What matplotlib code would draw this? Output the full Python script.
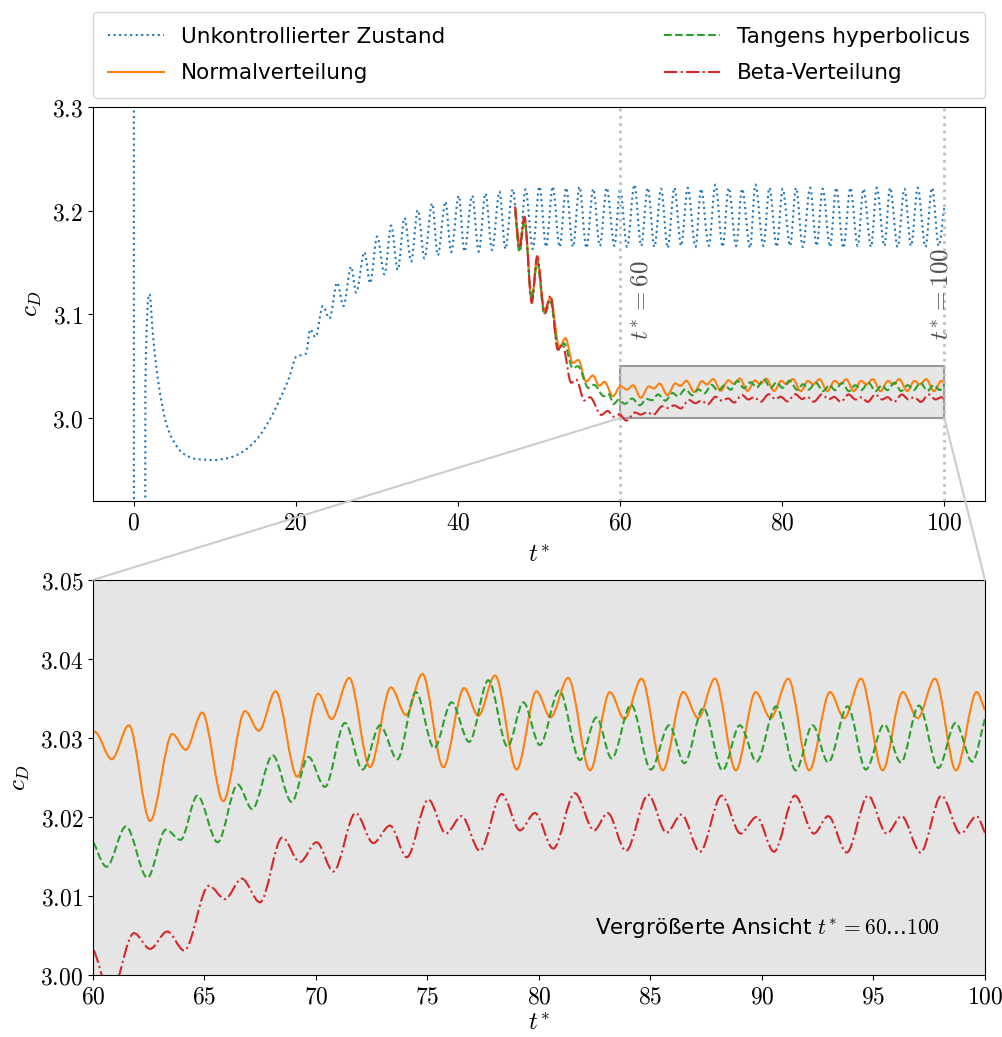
import matplotlib
matplotlib.use("Agg")
import matplotlib.pyplot as plt
from matplotlib.path import Path
from matplotlib.patches import PathPatch, Rectangle, ConnectionPatch
from matplotlib.lines import Line2D
from matplotlib import ticker

plt.rcParams['mathtext.fontset'] = 'cm'
plt.rcParams['font.family'] = ['DejaVu Sans']

blue_t = [0.04, 0.05, 1.42, 1.46, 1.97, 2.38, 2.80, 3.41, 4.03, 4.85, 6.08, 7.73, 9.78, 11.84, 13.48, 15.13, 16.77, 18.00, 19.24, 20.06, 21.30,
          21.78, 22.44, 23.35, 24.17, 25.11, 25.89, 26.84, 27.46, 28.48, 29.18, 30.05, 30.95, 31.77, 32.59, 33.42, 34.24, 35.06, 35.88, 36.83, 37.52,
          38.47, 39.17, 40.11, 40.81, 41.76, 42.58, 43.40, 44.23, 45.13, 45.87, 46.77, 47.60, 48.34, 49.24, 50.06, 50.89, 51.70, 52.55, 53.35, 54.20,
          55.00, 55.85, 56.70, 57.50, 58.36, 59.31, 60.01, 60.87, 61.77, 62.60, 63.42, 64.24, 65.06, 65.88, 66.70, 67.53, 68.35, 69.30, 69.99, 70.94,
          71.76, 72.66, 73.40, 74.32, 75.05, 76.04, 76.69, 77.68, 78.42, 79.32, 80.06, 80.97, 81.71, 82.53, 83.44, 84.25, 84.99, 85.90, 86.65, 87.55,
          88.41, 89.31, 90.01, 90.96, 91.66, 92.60, 93.30, 94.24, 95.07, 95.89, 96.71, 97.66, 98.48, 99.30, 100.0]
blue_c = [3.6, 2.7, 2.7, 3.03, 3.1196, 3.0817, 3.0495, 3.0174, 2.9949, 2.9788, 2.966, 2.9605, 2.9595, 2.9617, 2.9675, 2.9788, 2.998, 3.0174, 3.0398, 3.059, 3.0624,
          3.0855, 3.078, 3.108, 3.096, 3.1305, 3.108, 3.146, 3.121, 3.160, 3.130, 3.175, 3.1386, 3.1855, 3.1428, 3.193, 3.151, 3.2006, 3.154, 3.207, 3.157,
          3.2087, 3.160, 3.2144, 3.1605, 3.2144, 3.1605, 3.2167, 3.162, 3.2183, 3.163, 3.2206, 3.163, 3.2206, 3.163, 3.2232, 3.165, 3.2232, 3.165, 3.222, 3.165,
          3.223, 3.164, 3.221, 3.166, 3.222, 3.166, 3.221, 3.165, 3.225, 3.166, 3.222, 3.165, 3.221, 3.164, 3.222, 3.166, 3.222, 3.165, 3.221, 3.166,
          3.225, 3.165, 3.222, 3.166, 3.221, 3.164, 3.225, 3.166, 3.222, 3.165, 3.221, 3.166, 3.222, 3.165, 3.222, 3.166, 3.221, 3.165, 3.222, 3.164,
          3.222, 3.166, 3.221, 3.165, 3.222, 3.166, 3.222, 3.165, 3.221, 3.166, 3.222, 3.165, 3.222, 3.166, 3.205]

# Normalverteilung
orange_t = [47.06, 47.60, 48.21, 49.11, 49.78, 50.68, 51.42, 52.50, 53.27, 54.17, 54.85, 55.82, 56.64, 57.46, 58.08, 59.10,
            60.07, 60.84, 61.61, 62.56, 63.56, 64.16, 64.90, 65.84, 66.82, 67.44, 68.19, 69.16,
            70.10, 70.70, 71.49, 72.42, 73.36, 74.04, 74.77, 75.71, 76.64, 77.28, 78.03, 79.00,
            79.89, 80.52, 81.31, 82.29, 83.18, 83.83, 84.60, 85.55, 86.47, 87.14, 87.89, 88.83,
            89.72, 90.39, 91.18, 92.12, 93.05, 93.69, 94.44, 95.41, 96.31, 96.98, 97.76, 98.70, 99.63, 100.0]
orange_c = [3.202, 3.166, 3.192, 3.114, 3.154, 3.104, 3.116, 3.068, 3.077, 3.053, 3.056, 3.035, 3.041, 3.031, 3.035, 3.021,
            3.0308, 3.0273, 3.0316, 3.0195, 3.0305, 3.0285, 3.0332, 3.0220, 3.0334, 3.0309, 3.0359, 3.0251,
            3.0356, 3.0324, 3.0376, 3.0263, 3.0364, 3.0329, 3.0381, 3.0263, 3.0363, 3.0328, 3.0379, 3.0260,
            3.0359, 3.0326, 3.0376, 3.0259, 3.0358, 3.0324, 3.0375, 3.0259, 3.0358, 3.0325, 3.0375, 3.0259,
            3.0358, 3.0325, 3.0375, 3.0259, 3.0358, 3.0325, 3.0375, 3.0259, 3.0358, 3.0325, 3.0375, 3.0259, 3.0358, 3.0335]

# Tangens hyperbolicus
green_t = [47.06, 47.60, 48.21, 49.11, 49.78, 50.68, 51.42, 52.40, 53.10, 54.17, 54.80, 56.10, 56.80, 58.00, 58.60, 59.20, 59.80,
           60.61, 61.48, 62.44, 63.27, 63.93, 64.68, 65.59, 66.49, 67.14, 68.06, 68.91, 69.66,
           70.40, 71.30, 72.09, 72.87, 73.65, 74.48, 75.30, 76.08, 76.87, 77.73, 78.59, 79.30,
           80.04, 80.91, 81.84, 82.58, 83.26, 84.13, 85.02, 85.84, 86.52, 87.37, 88.23, 89.01,
           89.76, 90.63, 91.52, 92.27, 92.97, 93.84, 94.66, 95.48, 96.23, 97.04, 97.91, 98.68, 99.43, 100.0]
green_c = [3.200, 3.160, 3.190, 3.115, 3.150, 3.100, 3.112, 3.066, 3.072, 3.048, 3.050, 3.029, 3.032, 3.021, 3.023, 3.0135, 3.0175,
           3.0137, 3.0188, 3.0123, 3.0184, 3.0171, 3.0227, 3.0168, 3.0241, 3.0210, 3.0278, 3.0219, 3.0276,
           3.0238, 3.0319, 3.0260, 3.0316, 3.0273, 3.0358, 3.0287, 3.0345, 3.0295, 3.0373, 3.0289, 3.0345,
           3.0291, 3.0360, 3.0272, 3.0326, 3.0274, 3.0342, 3.0260, 3.0316, 3.0268, 3.0338, 3.0259, 3.0316,
           3.0270, 3.0340, 3.0259, 3.0316, 3.0269, 3.0340, 3.0260, 3.0317, 3.0269, 3.0341, 3.0262, 3.0319, 3.0270, 3.0324]

# Beta-Verteilung
red_t = [47.06, 47.60, 48.21, 49.11, 49.78, 50.68, 51.42, 52.32, 52.90, 53.97, 54.60, 55.60, 56.30, 57.67, 58.48, 59.20, 59.90,
         60.78, 61.84, 62.56, 63.33, 64.09, 65.20, 65.92, 66.67, 67.49, 68.49, 69.28,
         70.03, 70.78, 71.78, 72.57, 73.32, 74.07, 75.04, 75.83, 76.53, 77.35, 78.33, 79.15,
         79.82, 80.64, 81.61, 82.47, 83.08, 83.90, 84.90, 85.72, 86.39, 87.22, 88.19, 89.04,
         89.76, 90.54, 91.48, 92.33, 92.97, 93.80, 94.76, 95.59, 96.26, 97.11, 98.05, 98.91, 99.63, 100.0]
red_c = [3.204, 3.164, 3.194, 3.111, 3.156, 3.101, 3.118, 3.066, 3.071, 3.034, 3.037, 3.017, 3.020, 3.003, 3.0068, 3.0013, 3.0035,
         2.9975, 3.0053, 3.0033, 3.0055, 3.0031, 3.0113, 3.0096, 3.0122, 3.0092, 3.0174, 3.0143,
         3.0168, 3.0131, 3.0205, 3.0167, 3.0189, 3.0149, 3.0222, 3.0179, 3.0201, 3.0157, 3.0229, 3.0183,
         3.0205, 3.0160, 3.0230, 3.0183, 3.0205, 3.0157, 3.0228, 3.0180, 3.0203, 3.0156, 3.0227, 3.0179,
         3.0200, 3.0156, 3.0227, 3.0179, 3.0201, 3.0155, 3.0227, 3.0179, 3.0201, 3.0155, 3.0227, 3.0179, 3.0201, 3.0180]

labels = ['Unkontrollierter Zustand', 'Normalverteilung', 'Tangens hyperbolicus', 'Beta-Verteilung']
colors = ['#1f77b4', '#ff7f0e', '#2ca02c', '#d62728']
styles = [':', '-', '--', '-.']
series = [(blue_t, blue_c), (orange_t, orange_c), (green_t, green_c), (red_t, red_c)]


def slopes(t, y):
    # pchip-artige Tangenten: Extrema waagerecht
    n = len(t)
    d = [(y[i + 1] - y[i]) / (t[i + 1] - t[i]) for i in range(n - 1)]
    h = [t[i + 1] - t[i] for i in range(n - 1)]
    m = [d[0]] + [0.0] * (n - 2) + [d[-1]]
    for i in range(1, n - 1):
        if d[i - 1] * d[i] > 0:
            w1 = 2 * h[i] + h[i - 1]
            w2 = h[i] + 2 * h[i - 1]
            m[i] = (w1 + w2) / (w1 / d[i - 1] + w2 / d[i])
    return m


def curve_path(t, y):
    m = slopes(t, y)
    verts = [(t[0], y[0])]
    codes = [Path.MOVETO]
    for i in range(len(t) - 1):
        h = (t[i + 1] - t[i]) / 3
        verts += [(t[i] + h, y[i] + m[i] * h), (t[i + 1] - h, y[i + 1] - m[i + 1] * h), (t[i + 1], y[i + 1])]
        codes += [Path.CURVE4] * 3
    return Path(verts, codes)


fig = plt.figure(figsize=(10.03, 10.37), dpi=100)
ax1 = fig.add_axes([0.0927, 0.5169, 0.8893, 0.380])
ax2 = fig.add_axes([0.0927, 0.0598, 0.8893, 0.381])

for (t, c), col, ls in zip(series, colors, styles):
    for ax in (ax1, ax2):
        ax.add_patch(PathPatch(curve_path(t, c), fill=False, edgecolor=col, linestyle=ls, lw=1.5, zorder=2))

ax1.add_patch(Rectangle((60, 3.0), 40, 0.05, facecolor='0.9', edgecolor='0.6', lw=1.5, zorder=1))
ax1.axvline(60, color='0.75', ls=':', lw=2, zorder=3)
ax1.axvline(100, color='0.75', ls=':', lw=2, zorder=3)
ax1.text(61.2, 3.075, r'$t^{\!*} = 60$', rotation=90, ha='left', va='bottom', fontsize=18, color='0.3')
ax1.text(98.2, 3.075, r'$t^{\!*} = 100$', rotation=90, ha='left', va='bottom', fontsize=18, color='0.3')

ax1.set_xlim(-5, 105)
ax1.set_ylim(2.92, 3.3)
ax1.set_xticks([0, 20, 40, 60, 80, 100])
ax1.set_yticks([3.0, 3.1, 3.2, 3.3])
ax1.xaxis.set_major_formatter(ticker.FormatStrFormatter(r'$%d$'))
ax1.yaxis.set_major_formatter(ticker.FormatStrFormatter(r'$%.1f$'))

ax2.set_facecolor('#e5e5e5')
ax2.set_xlim(60, 100)
ax2.set_ylim(3.0, 3.05)
ax2.set_xticks(range(60, 101, 5))
ax2.set_yticks([3.00, 3.01, 3.02, 3.03, 3.04, 3.05])
ax2.xaxis.set_major_formatter(ticker.FormatStrFormatter(r'$%d$'))
ax2.yaxis.set_major_formatter(ticker.FormatStrFormatter(r'$%.2f$'))
ax2.text(0.95, 0.12, r'Vergrößerte Ansicht $t^{\!*} = 60$...$100$', transform=ax2.transAxes,
         ha='right', va='center', fontsize=15.5)

for ax in (ax1, ax2):
    ax.tick_params(labelsize=17)
    ax.set_ylabel(r'$c_D$', fontsize=18, labelpad=6)
ax1.set_xlabel(r'$t^{\!*}$', fontsize=18, labelpad=6)
ax2.set_xlabel(r'$t^{\!*}$', fontsize=18, labelpad=2)

for xa, xb in ((60, 60), (100, 100)):
    con = ConnectionPatch(xyA=(xa, 3.0), coordsA=ax1.transData, xyB=(xb, 3.05), coordsB=ax2.transData,
                          color='0.8', lw=1.5)
    fig.add_artist(con)

handles = [Line2D([], [], color=col, ls=ls, lw=1.5) for col, ls in zip(colors, styles)]
ax1.legend(handles, labels, loc='lower left', bbox_to_anchor=(0, 1.022, 1, 0.2), mode='expand',
           ncol=2, fontsize=15.5, handlelength=2.6, labelspacing=0.75, borderpad=0.7,
           borderaxespad=0)

fig.savefig('out.png', dpi=100)
